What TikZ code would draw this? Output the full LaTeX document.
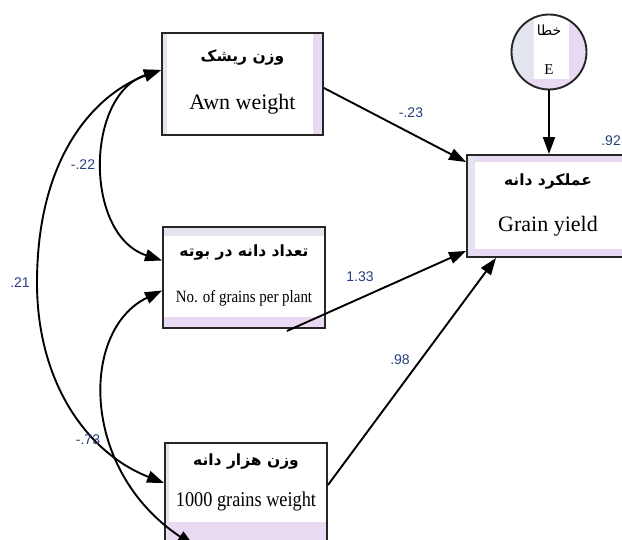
\documentclass[tikz,border=0pt]{standalone}
\usepackage{fontspec}
\setmainfont{Liberation Serif}
\newfontfamily\numfont{Liberation Sans}
\newfontfamily\condfont[FakeStretch=0.87]{Liberation Serif}
\newfontfamily\fafont[Script=Arabic]{DejaVu Sans}
\TeXXeTstate=1
\usetikzlibrary{arrows.meta,calc}
\definecolor{lav}{RGB}{233,218,243}
\definecolor{gb}{RGB}{226,229,238}
\definecolor{numc}{RGB}{40,62,125}
\begin{document}
\begin{tikzpicture}[x=1pt,y=-1pt,
  box/.style={draw=black!85,line width=1.9pt,fill=white,inner sep=0pt,minimum width=162pt,minimum height=102pt},
  arr/.style={line width=1.9pt,-{Triangle[length=17pt,width=12pt]}},
  dbl/.style={line width=1.9pt,{Triangle[length=17pt,width=12pt]}-{Triangle[length=17pt,width=12pt]}},
  en/.style={font=\fontsize{22}{24}\selectfont,inner sep=0pt},
  encond/.style={font=\condfont\fontsize{17.2}{19}\selectfont,inner sep=0pt},
  fa/.style={font=\fafont\bfseries\fontsize{15.5}{17}\selectfont,inner sep=0pt},
  num/.style={text=numc,font=\numfont\fontsize{14}{16}\selectfont,inner sep=0pt}]
\useasboundingbox (0,0) rectangle (622,540);
% boxes
\node[box,minimum width=161pt,path picture={
  \fill[lav] ($(path picture bounding box.north east)+(-10pt,0pt)$) rectangle (path picture bounding box.south east);
  \fill[gb] (path picture bounding box.north west) rectangle ($(path picture bounding box.south west)+(5pt,0pt)$);}]
  (b1) at (242.5,84) {};
\node[box,minimum height=101pt,path picture={
  \fill[gb] (path picture bounding box.north west) rectangle ($(path picture bounding box.north east)+(0pt,-9pt)$);
  \fill[lav] ($(path picture bounding box.south west)+(0pt,11pt)$) rectangle (path picture bounding box.south east);}]
  (b2) at (244,277.5) {};
\node[box,path picture={
  \fill[lav] ($(path picture bounding box.south west)+(0pt,23pt)$) rectangle (path picture bounding box.south east);
  \fill[gb] (path picture bounding box.north west) rectangle ($(path picture bounding box.south west)+(4pt,0pt)$);}]
  (b3) at (246,494) {};
\node[box,path picture={
  \fill[gb] (path picture bounding box.north west) rectangle ($(path picture bounding box.south west)+(8pt,0pt)$);
  \fill[lav] ($(path picture bounding box.north west)+(8pt,0pt)$) rectangle ($(path picture bounding box.north east)+(0pt,-7pt)$);
  \fill[lav] ($(path picture bounding box.south west)+(0pt,8pt)$) rectangle (path picture bounding box.south east);}]
  (gy) at (548,206) {};
\node[circle,draw=black!85,line width=1.9pt,fill=white,inner sep=0pt,minimum size=75pt,path picture={
  \fill[gb] (path picture bounding box.north west) rectangle ($(path picture bounding box.south west)+(22pt,0pt)$);
  \fill[lav] ($(path picture bounding box.north east)+(-18pt,0pt)$) rectangle (path picture bounding box.south east);
  \fill[lav] ($(path picture bounding box.south west)+(0pt,10pt)$) rectangle (path picture bounding box.south east);}]
  (E) at (549,52) {};
% texts
\node[fa] (b1fa) at ($(b1.north)+(0,25)$) {\beginR وزن ریشک\endR};
\node[en] (b1en) at ($(b1.north)+(0,72)$) {Awn weight};
\node[fa] (b2fa) at ($(b2.north)+(0,26)$) {\beginR تعداد دانه در بوته\endR};
\node[encond] (b2en) at ($(b2.north)+(0,72)$) {No. of grains per plant};
\node[fa] (b3fa) at ($(b3.north)+(0,19)$) {\beginR وزن هزار دانه\endR};
\node[encond,font=\condfont\fontsize{21}{23}\selectfont] (b3en) at ($(b3.north)+(0,59)$) {1000 grains weight};
\node[fa] (gyfa) at ($(gy.north)+(0,27)$) {\beginR عملکرد دانه\endR};
\node[en] (gyen) at ($(gy.north)+(0,72)$) {Grain yield};
\node[fa,font=\fafont\fontsize{14}{16}\selectfont] (Efa) at (549,30) {\beginR خطا\endR};
\node[en,font=\fontsize{15}{17}\selectfont] (Een) at (549,70) {E};
% paths to grain yield
\draw[arr] ($(b1.east)+(0,4)$) -- ($(gy.north west)+(0,8)$);
\draw[arr] ($(b2.south)+(43,2)$) -- ($(gy.south west)+(0,-7)$);
\draw[arr] ($(b3.east)+(0,-9)$) -- ($(gy.south west)+(30,0)$);
\draw[arr] (E.south) -- (E.south |- gy.north);
% covariances
\draw[dbl] ($(b1.west)+(0,-14)$) .. controls (85,95) and (84,235) .. ($(b2.west)+(0,-17)$);
\draw[dbl] ($(b1.west)+(0,-14)$) .. controls (105,90) and (37,145) .. (37,283) .. controls (37,380) and (85,452) .. ($(b3.west)+(0,-11)$);
\draw[dbl] ($(b2.west)+(0,13)$) .. controls (80,330) and (80,470) .. ($(b3.south west)+(30,0)$);
% labels
\node[num] (l1) at (83,165) {-.22};
\node[num] (l2) at (20,283) {.21};
\node[num] (l3) at (88,440) {-.73};
\node[num] (l4) at (411,113) {-.23};
\node[num] (l5) at (360,277) {1.33};
\node[num] (l6) at (400,360) {.98};
\node[num,anchor=east] (l7) at (621,141) {.92};
\end{tikzpicture}
\end{document}
